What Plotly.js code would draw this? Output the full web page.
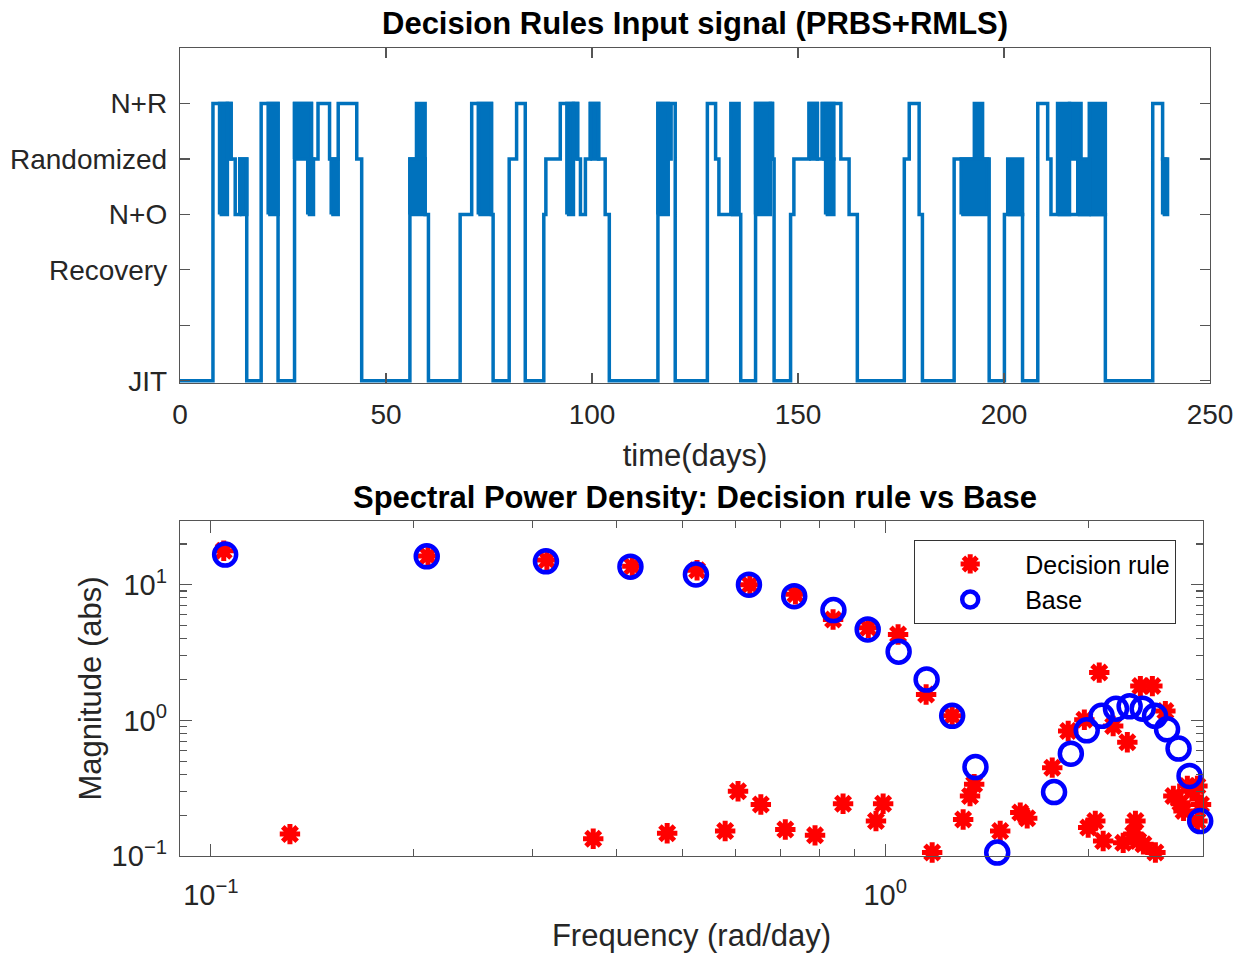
<!DOCTYPE html>
<html>
<head>
<meta charset="utf-8">
<script src="https://cdn.plot.ly/plotly-3.0.1.min.js"></script>
<style>html,body{margin:0;padding:0;background:#fff;}#chart{width:1251px;height:956px;}</style>
</head>
<body>
<div id="chart"></div>
<script>
// ---------- Top panel: decision-rule input signal ----------
// level codes: 0 = JIT, 2 = Recovery, 3 = N+O, 4 = Randomized, 5 = N+R
const levelTickVals = [0, 2, 3, 4, 5];
const levelTickText = ['JIT', 'Recovery', 'N+O', 'Randomized', 'N+R'];

// step change points (time in days, level after the change)
const stepTime = [0, 8.0, 12.4, 13.4, 14.5, 16.2, 19.7, 23.8, 27.8, 31.9, 33.5, 36.3, 38.4, 42.9, 44.1,
  55.8, 59.5, 60.3, 68.0, 70.8, 75.6, 76.0, 79.9, 81.7, 83.8, 88.3, 88.8, 92.3, 96.5, 97.2, 98.4, 99.6,
  101.6, 103.2, 104.2, 116.0, 118.5, 119.2, 120.2, 128.0, 130.0, 130.8, 136.1, 139.7, 143.8, 144.2,
  148.2, 149.0, 152.7, 154.7, 155.9, 160.4, 162.4, 164.4, 175.8, 177.0, 179.4, 180.2, 187.9, 196.4,
  200.1, 204.5, 208.2, 210.6, 211.4, 224.6, 236.1, 238.5, 239.7];
const stepLevel = [0, 5, 4, 3, 4, 0, 5, 0, 5, 4, 5, 4, 5, 4, 0,
  4, 3, 0, 3, 5, 3, 0, 4, 5, 0, 3, 4, 5, 4, 3, 4, 5,
  4, 3, 0, 5, 4, 5, 0, 5, 4, 3, 0, 5, 4, 0,
  3, 4, 5, 4, 5, 4, 3, 0, 4, 5, 3, 0, 4, 0,
  3, 0, 5, 4, 3, 0, 5, 4, 4];

// intervals of rapid switching between two levels (drawn as solid bands)
const burstStart = [9.6, 11.5, 14.5, 21.4, 27.8, 31.0, 36.7, 55.8, 57.4, 72.4, 93.9, 95.5, 99.6, 116.0,
  133.7, 139.7, 143.3, 152.7, 155.9, 156.7, 189.6, 192.8, 200.9, 213.0, 215.9, 217.9, 220.7, 238.5];
const burstEnd = [11.5, 12.4, 16.2, 23.8, 31.9, 32.4, 38.4, 59.5, 59.5, 75.6, 95.5, 96.5, 101.6, 118.5,
  135.7, 143.3, 143.8, 154.7, 158.7, 158.7, 196.0, 194.8, 204.5, 215.9, 218.7, 220.7, 224.6, 239.7];
const burstLow = [3, 4, 3, 3, 4, 3, 3, 3, 4, 3, 3, 4, 4, 3,
  3, 3, 4, 4, 4, 3, 3, 4, 3, 3, 4, 3, 3, 3];
const burstHigh = [5, 5, 4, 5, 5, 4, 4, 4, 5, 5, 5, 5, 5, 5,
  5, 5, 5, 5, 5, 4, 4, 5, 4, 5, 5, 4, 5, 4];

// ---------- Bottom panel: spectral power density ----------
const ruleFreq = [0.1045, 0.131, 0.2099, 0.315, 0.369, 0.4217, 0.475, 0.526, 0.579, 0.605, 0.630, 0.654,
  0.711, 0.736, 0.787, 0.837, 0.866, 0.944, 0.969, 0.993, 1.045, 1.150, 1.174, 1.257, 1.305, 1.336, 1.355,
  1.481, 1.586, 1.624, 1.769, 1.868, 1.974, 2.000, 2.049, 2.077, 2.105, 2.178, 2.254, 2.286, 2.333, 2.350,
  2.373, 2.390, 2.415, 2.490, 2.516, 2.603, 2.675, 2.740, 2.770, 2.806, 2.850, 2.904, 2.904, 2.940];
const ruleMag = [17.8, 0.145, 16.3, 15.2, 0.134, 13.7, 0.147, 12.8, 0.153, 0.30, 10.0, 0.24,
  0.157, 8.5, 0.142, 5.55, 0.243, 4.82, 0.181, 0.243, 4.3, 1.55, 0.106, 1.08, 0.186, 0.277, 0.338,
  0.153, 0.209, 0.19, 0.448, 0.834, 1.01, 0.162, 0.181, 2.25, 0.129, 0.908, 0.125, 0.69, 0.145, 0.181,
  0.129, 1.79, 0.122, 1.79, 0.106, 1.17, 0.277, 0.247, 0.215, 0.328, 0.30, 0.328, 0.181, 0.24];

const baseFreq = [0.105, 0.209, 0.314, 0.419, 0.524, 0.628, 0.733, 0.838, 0.942, 1.047, 1.152, 1.257,
  1.361, 1.466, 1.780, 1.885, 1.990, 2.094, 2.199, 2.304, 2.409, 2.513, 2.618, 2.723, 2.827, 2.932];
const baseMag = [16.7, 16.2, 14.9, 13.6, 11.9, 10.0, 8.24, 6.5, 4.68, 3.21, 2.0, 1.08,
  0.453, 0.106, 0.296, 0.568, 0.844, 1.08, 1.22, 1.27, 1.22, 1.08, 0.86, 0.62, 0.389, 0.181];

// ---------- build traces ----------
const BLUE = '#0072BD';
const bx = [], by = [];
for (let i = 0; i < burstStart.length; i++) {
  bx.push(burstStart[i], burstEnd[i], burstEnd[i], burstStart[i], burstStart[i], null);
  by.push(burstLow[i], burstLow[i], burstHigh[i], burstHigh[i], burstLow[i], null);
}

const traces = [
  {x: bx, y: by, xaxis: 'x', yaxis: 'y', mode: 'lines', fill: 'toself', fillcolor: BLUE,
   line: {color: BLUE, width: 3.5}, showlegend: false, hoverinfo: 'skip'},
  {x: stepTime, y: stepLevel, xaxis: 'x', yaxis: 'y', mode: 'lines', line: {color: BLUE, width: 3.5, shape: 'hv'},
   showlegend: false},
  {x: ruleFreq, y: ruleMag, xaxis: 'x2', yaxis: 'y2', mode: 'markers', name: 'Decision rule', cliponaxis: false,
   marker: {symbol: 'asterisk-open', size: 17, color: '#FF0000', line: {color: '#FF0000', width: 5}}},
  {x: baseFreq, y: baseMag, xaxis: 'x2', yaxis: 'y2', mode: 'markers', name: 'Base', cliponaxis: false,
   marker: {symbol: 'circle-open', size: 22, color: '#0000FF', line: {color: '#0000FF', width: 4.5}}}
];

const AX = '#555555';
const TXT = '#262626';
const FONT = 'Liberation Sans, Arial, Helvetica, sans-serif';
const common = {showline: true, linecolor: AX, linewidth: 1.2, mirror: 'ticks', ticks: 'inside',
  tickcolor: AX, tickwidth: 1.2, showgrid: false, zeroline: false, tickfont: {size: 28, color: TXT, family: FONT}};

const sup = s => '10<sup>' + s + '</sup>';

const layout = {
  width: 1251, height: 956,
  margin: {l: 0, r: 0, t: 0, b: 0},
  paper_bgcolor: '#ffffff', plot_bgcolor: '#ffffff',
  font: {family: FONT, color: TXT, size: 24},
  xaxis: Object.assign({}, common, {domain: [180/1251, 1210/1251], anchor: 'y', range: [0, 250],
    tickmode: 'array', tickvals: [0, 50, 100, 150, 200, 250], ticklen: 10, ticklabelstandoff: 6,
    title: {text: 'time(days)', font: {size: 31, color: TXT}, standoff: 15}}),
  yaxis: Object.assign({}, common, {domain: [1 - 383/956, 1 - 48/956], anchor: 'x', range: [-0.04, 6],
    tickmode: 'array', tickvals: levelTickVals, ticktext: levelTickText, ticklen: 10, ticklabelstandoff: 6,
    minor: {ticks: 'inside', ticklen: 10, tickcolor: AX, tickwidth: 1.2, tickmode: 'array', tickvals: [1]}}),
  xaxis2: Object.assign({}, common, {domain: [180/1251, 1203/1251], anchor: 'y2', type: 'log',
    range: [Math.log10(0.09), Math.log10(2.96)], tickmode: 'array', tickvals: [0.1, 1],
    ticktext: [sup('\u22121'), sup('0')], ticklen: 12, ticklabelstandoff: 13,
    tickfont: {size: 29, color: TXT, family: FONT},
    minor: {ticks: 'inside', ticklen: 7, tickcolor: AX, tickmode: 'array',
      tickvals: [0.2, 0.3, 0.4, 0.5, 0.6, 0.7, 0.8, 0.9, 2]},
    title: {text: 'Frequency (rad/day)', font: {size: 31, color: TXT}, standoff: 14}}),
  yaxis2: Object.assign({}, common, {domain: [1 - 856/956, 1 - 521/956], anchor: 'x2', type: 'log',
    range: [-1, 1.47], tickmode: 'array', tickvals: [0.1, 1, 10],
    ticktext: [sup('\u22121'), sup('0'), sup('1')], ticklen: 12, ticklabelstandoff: 6,
    tickfont: {size: 29, color: TXT, family: FONT},
    minor: {ticks: 'inside', ticklen: 7, tickcolor: AX, tickmode: 'array',
      tickvals: [0.2, 0.3, 0.4, 0.5, 0.6, 0.7, 0.8, 0.9, 2, 3, 4, 5, 6, 7, 8, 9, 20]},
    title: {text: 'Magnitude (abs)', font: {size: 31, color: TXT}, standoff: 0}}),
  showlegend: true,
  legend: {x: 914/1251, y: 1 - 540/956, xanchor: 'left', yanchor: 'top', bgcolor: '#ffffff',
    bordercolor: '#333333', borderwidth: 1.2, font: {size: 25, color: '#000000', family: FONT},
    itemwidth: 100, tracegroupgap: 0},
  annotations: [
    {text: '<b>Decision Rules Input signal (PRBS+RMLS)</b>', xref: 'paper', yref: 'paper',
     x: 695/1251, y: 1 - 24/956, xanchor: 'center', yanchor: 'middle', showarrow: false,
     font: {size: 31, color: '#000000', family: FONT}},
    {text: '<b>Spectral Power Density: Decision rule vs Base</b>', xref: 'paper', yref: 'paper',
     x: 695/1251, y: 1 - 497/956, xanchor: 'center', yanchor: 'middle', showarrow: false,
     font: {size: 31, color: '#000000', family: FONT}}
  ]
};

Plotly.newPlot('chart', traces, layout, {displayModeBar: false, staticPlot: true});
</script>
</body>
</html>
